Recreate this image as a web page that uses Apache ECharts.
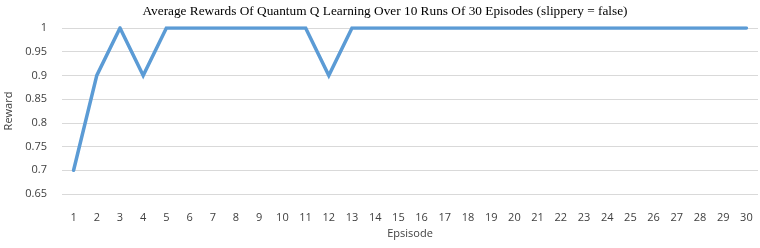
<!DOCTYPE html>
<html><head><meta charset="utf-8">
<script src="https://cdn.jsdelivr.net/npm/echarts@6/dist/echarts.min.js"></script>
<style>html,body{margin:0;padding:0;background:#fff}#c{width:760px;height:248px}</style>
</head><body><div id="c"></div>
<script>
const episodes = Array.from({length:30},(_,i)=>String(i+1));
const rewards = [0.7,0.9,1,0.9,1,1,1,1,1,1,1,0.9,1,1,1,1,1,1,1,1,1,1,1,1,1,1,1,1,1,1];
const chart = echarts.init(document.getElementById('c'));
chart.setOption({
  animation:false,
  title:{text:'Average Rewards Of Quantum Q Learning Over 10 Runs Of 30 Episodes (slippery = false)',left:380,textAlign:'center',top:0,
    textStyle:{fontFamily:'Liberation Serif',fontSize:13.3,fontWeight:'normal',color:'#000'}},
  grid:{left:62,right:2,top:28,bottom:54,containLabel:false,outerBoundsMode:'none'},
  xAxis:{type:'category',data:episodes,boundaryGap:true,
    name:'Epsisode',nameLocation:'middle',nameGap:31,
    nameTextStyle:{fontFamily:'Open Sans',fontSize:11,color:'#404040'},
    axisLine:{show:false},axisTick:{show:false},
    axisLabel:{margin:18,fontFamily:'Open Sans',fontSize:11,color:'#404040'}},
  yAxis:{type:'value',min:0.65,max:1,interval:0.05,
    name:'Reward',nameLocation:'middle',nameGap:46,
    nameTextStyle:{fontFamily:'Open Sans',fontSize:11,color:'#404040'},
    axisLine:{show:false},axisTick:{show:false},
    axisLabel:{margin:15,fontFamily:'Open Sans',fontSize:11,color:'#404040',formatter:v=>String(+v.toFixed(2))},
    splitLine:{lineStyle:{color:'#d9d9d9',width:1}}},
  series:[{type:'line',data:rewards,symbol:'none',lineStyle:{color:'#5b9bd5',width:3.5,cap:'round',join:'miter'}}]
});
</script></body></html>
